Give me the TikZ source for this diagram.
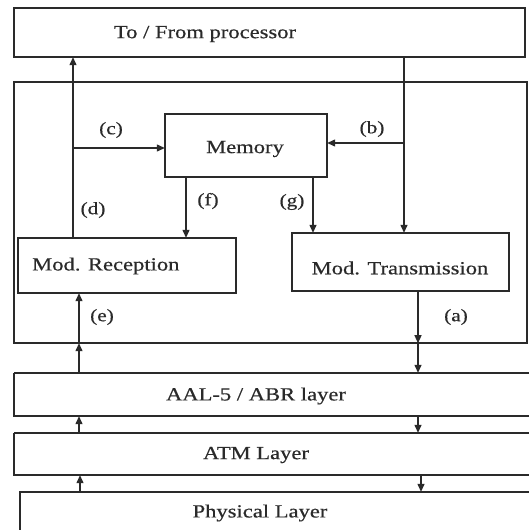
\documentclass[tikz,border=0pt]{standalone}
\usepackage{fontspec}
\setmainfont[FakeStretch=1.22,FakeBold=0.5]{Liberation Serif}
\usetikzlibrary{arrows.meta}
\definecolor{ink}{HTML}{2A2A2A}
\tikzset{
  blk/.style={draw=ink, line width=1.8pt, fill=none},
  txt/.style={text=ink, font=\fontsize{18.5}{20}\selectfont, inner sep=0pt},
  lbl/.style={text=ink, font=\fontsize{17.5}{19}\selectfont, inner sep=0pt},
  con/.style={draw=ink, line width=1.3pt},
  arr/.style={con, -{Triangle[length=8pt,width=7pt]}},
}
\begin{document}
\begin{tikzpicture}[x=1pt,y=-1pt]
\useasboundingbox (0,0) rectangle (528,530);
\fill[white] (0,0) rectangle (528,530);
% boxes
\draw[blk] (14,8) rectangle (525,57);
\draw[blk] (14,82) rectangle (527,343);
\draw[blk] (165,114) rectangle (327,177);
\draw[blk] (18,238) rectangle (236,293);
\draw[blk] (292,233) rectangle (509,291);
\draw[blk] (14,373) -- (545,373) (14,373) -- (14,416) -- (545,416);
\draw[blk] (14,433) -- (545,433) (14,433) -- (14,475) -- (545,475);
\draw[blk] (20,545) -- (20,492) -- (545,492);
% named box anchors
\node[minimum width=511pt, minimum height=49pt, inner sep=0pt] (proc) at (269.5,32.5) {};
\node[minimum width=513pt, minimum height=261pt, inner sep=0pt] (dev) at (270.5,212.5) {};
\node[minimum width=162pt, minimum height=63pt, inner sep=0pt] (mem) at (246,145.5) {};
\node[minimum width=218pt, minimum height=55pt, inner sep=0pt] (recep) at (127,265.5) {};
\node[minimum width=217pt, minimum height=58pt, inner sep=0pt] (trans) at (400.5,262) {};
\node[minimum width=531pt, minimum height=43pt, inner sep=0pt] (aal) at (279.5,394.5) {};
\node[minimum width=531pt, minimum height=42pt, inner sep=0pt] (atm) at (279.5,454) {};
\node[minimum width=525pt, minimum height=53pt, inner sep=0pt] (phys) at (282.5,518.5) {};
% texts
\node[txt] (tproc) at (205,34) {To / From processor};
\node[txt] (tmem) at (245,149) {Memory};
\node[txt, anchor=west] (trec) at (32,266) {Mod. Reception};
\node[txt] (ttr) at (400,268) {Mod. Transmission};
\node[txt] (taal) at (256,396) {AAL-5 / ABR layer};
\node[txt] (tatm) at (256,455) {ATM Layer};
\node[txt] (tphy) at (260,513) {Physical Layer};
% labels
\node[lbl] (lc) at (111,130) {(c)};
\node[lbl] (lb) at (372,129) {(b)};
\node[lbl] (ld) at (93,210) {(d)};
\node[lbl] (lf) at (208,201) {(f)};
\node[lbl] (lg) at (292,202) {(g)};
\node[lbl] (le) at (102,317) {(e)};
\node[lbl] (la) at (456,317) {(a)};
% connectors
\coordinate (cL) at (73,148);
\coordinate (cR) at (404,143);
\draw[arr] (recep.north -| cL) -- (proc.south -| cL);
\draw[arr] (cL) -- (cL -| mem.west);
\draw[arr] (proc.south -| cR) -- (trans.north -| cR);
\draw[arr] (cR) -- (cR -| mem.east);
\draw[arr] (mem.south -| 186,0) -- (recep.north -| 186,0);
\draw[arr] (mem.south -| 313,0) -- (trans.north -| 313,0);
\draw[arr] (aal.north -| 79,0) -- (dev.south -| 79,0);
\draw[arr] (dev.south -| 79,0) -- (recep.south -| 79,0);
\draw[arr] (trans.south -| 418,0) -- (dev.south -| 418,0);
\draw[arr] (dev.south -| 418,0) -- (aal.north -| 418,0);
\draw[arr] (atm.north -| 79,0) -- (aal.south -| 79,0);
\draw[arr] (aal.south -| 418,0) -- (atm.north -| 418,0);
\draw[arr] (phys.north -| 80,0) -- (atm.south -| 80,0);
\draw[arr] (atm.south -| 421,0) -- (phys.north -| 421,0);
\end{tikzpicture}
\end{document}
